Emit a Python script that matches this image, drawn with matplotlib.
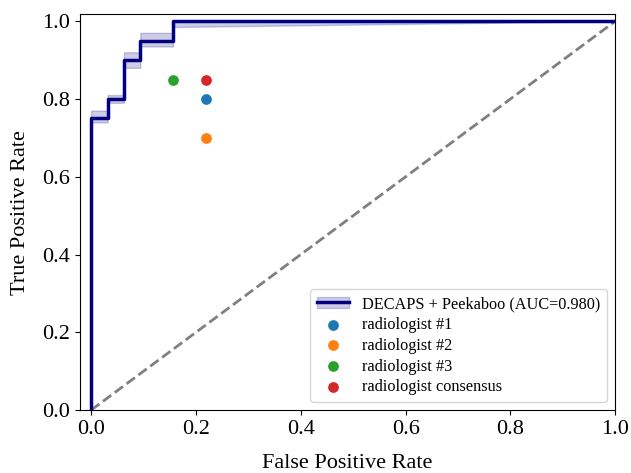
import matplotlib
matplotlib.use("Agg")
import matplotlib.pyplot as plt
import numpy as np

plt.rcParams['font.family'] = ['Liberation Serif', 'DejaVu Serif']

# ROC curve (step points)
fpr = [0.0, 0.0, 0.03125, 0.03125, 0.0625, 0.0625, 0.09375, 0.09375, 0.15625, 0.15625, 1.0]
tpr = [0.0, 0.75, 0.75, 0.80, 0.80, 0.90, 0.90, 0.95, 0.95, 1.00, 1.00]
tpr_upper = [0.0, 0.77, 0.77, 0.81, 0.81, 0.92, 0.92, 0.97, 0.97, 1.00, 1.00]
tpr_lower = [0.0, 0.74, 0.74, 0.79, 0.79, 0.88, 0.88, 0.935, 0.935, 0.985, 1.00]
auc = 0.980

# radiologists
rad_names = ['radiologist #1', 'radiologist #2', 'radiologist #3', 'radiologist consensus']
rad_fpr = [0.219, 0.219, 0.156, 0.219]
rad_tpr = [0.80, 0.70, 0.85, 0.85]
rad_colors = ['tab:blue', 'tab:orange', 'tab:green', 'tab:red']

fig = plt.figure(figsize=(6.31, 4.73), dpi=100)
ax = fig.add_axes([0.127, 0.133, 0.848, 0.837])

ax.plot([0, 1], [0, 1], linestyle='--', color='gray', lw=2)
line, = ax.plot(fpr, tpr, color='navy', lw=2.5)
band = ax.fill_between(fpr, tpr_lower, tpr_upper, color='navy', alpha=0.2, lw=1)

handles = [(band, line)]
labels = ['DECAPS + Peekaboo (AUC=%0.3f)' % auc]
for name, x, y, c in zip(rad_names, rad_fpr, rad_tpr, rad_colors):
    h = ax.scatter(x, y, color=c, s=45, zorder=3)
    handles.append(h)
    labels.append(name)

ax.set_xlim(-0.021, 1.0)
ax.set_ylim(0.0, 1.018)
ax.set_xticks(np.arange(0, 1.01, 0.2))
ax.set_yticks(np.arange(0, 1.01, 0.2))
ax.tick_params(labelsize=16)
ax.set_xlabel('False Positive Rate', fontsize=16, labelpad=11)
ax.set_ylabel('True Positive Rate', fontsize=16, labelpad=9)
ax.legend(handles, labels, loc='lower right', fontsize=11.7, handlelength=2.0,
          labelspacing=0.3)

fig.savefig('out.png', dpi=100)
